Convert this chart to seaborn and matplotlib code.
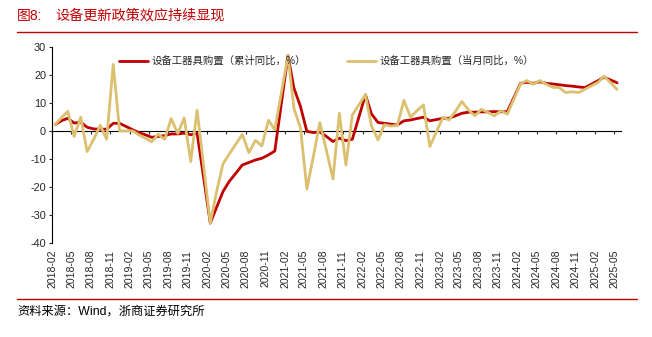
import numpy as np
import pandas as pd
import matplotlib
matplotlib.use('Agg')
import matplotlib.pyplot as plt
from matplotlib.lines import Line2D
import seaborn as sns

# ---------------- data ----------------
months = pd.period_range('2018-02', '2025-05', freq='M').strftime('%Y-%m').tolist()
nan = np.nan

# 设备工器具购置（累计同比，%） - January values not published
cum_yoy = [
    2.3, 3.6, 4.5, 2.8, 3.1, 1.3, 0.7, 0.6, 0.6, 2.7, 2.7, nan,          # 2018
    0.4, -0.6, -1.4, -2.3, -2.0, -1.7, -1.1, -1.1, -0.8, -1.4, -0.8, nan,  # 2019
    -33.0, -27.5, -21.7, -18.0, -15.1, -12.2, -11.3, -10.4, -9.8, -8.6, -7.2, nan,  # 2020
    27.0, 15.3, 8.7, -0.2, -0.6, -0.4, -2.0, -3.8, -2.6, -3.5, -3.0, nan,  # 2021
    12.9, 6.1, 3.0, 2.7, 2.4, 2.1, 3.6, 3.9, 4.4, 4.9, 3.6, nan,          # 2022
    4.5, 4.5, 5.4, 6.3, 6.7, 6.7, 6.8, 6.8, 6.9, 6.8, 6.9, nan,           # 2023
    17.0, 17.4, 17.0, 17.6, 17.0, 16.8, 16.5, 16.2, 16.0, 15.7, 15.5, nan,  # 2024
    18.0, 19.2, 18.2, 17.2,                                              # 2025
]

# 设备工器具购置（当月同比，%）
mon_yoy = [
    2.3, 4.6, 7.0, -2.0, 4.9, -7.4, -3.0, 2.0, -3.0, 23.8, 0.0, nan,
    0.0, -1.4, -2.6, -3.9, -1.2, -3.0, 4.4, -0.9, 4.6, -11.0, 7.4, nan,
    -33.0, -22.0, -11.8, -8.2, -4.7, -1.3, -7.8, -3.4, -5.4, 3.8, 0.4, nan,
    27.0, 8.1, 1.0, -20.8, -9.0, 3.0, -7.0, -17.2, 6.3, -12.2, 5.7, nan,
    12.9, 1.8, -3.2, 2.2, 1.7, 2.0, 10.9, 4.9, 7.2, 9.3, -5.6, nan,
    4.9, 3.9, 7.0, 10.5, 7.5, 5.4, 7.7, 6.6, 5.4, 7.2, 6.0, nan,
    16.8, 18.0, 16.7, 18.0, 16.7, 15.6, 15.5, 13.7, 14.0, 13.7, 14.9, nan,
    17.4, 19.6, 17.2, 14.8,
]

series_names = ['设备工器具购置（累计同比，%）', '设备工器具购置（当月同比，%）']
tick_labels = months[::3]
y_ticks = [-40, -30, -20, -10, 0, 10, 20, 30]

title_no = '图8:'
title_text = '设备更新政策效应持续显现'
source_text = '资料来源：Wind，浙商证券研究所'

# ---------------- styling ----------------
RED = '#C00000'
GOLD = '#DBC070'

sns.set_theme(style='white')
plt.rcParams['font.family'] = ['Liberation Sans', 'Noto Sans CJK SC', 'DejaVu Sans']
plt.rcParams['axes.unicode_minus'] = False

# month midpoints as x positions
dates = pd.to_datetime(months) + pd.Timedelta(days=14)
df = pd.concat([
    pd.DataFrame({'date': dates, 'value': cum_yoy, 'series': series_names[0]}),
    pd.DataFrame({'date': dates, 'value': mon_yoy, 'series': series_names[1]}),
], ignore_index=True).dropna()

fig = plt.figure(figsize=(6.52, 3.37), dpi=100)
ax = fig.add_axes([0.0802, 0.2798, 0.8718, 0.5807])

sns.lineplot(data=df, x='date', y='value', hue='series', hue_order=series_names,
             palette=[RED, GOLD], linewidth=2.0, ax=ax, legend=True)

tick_dates = pd.to_datetime(tick_labels)
ax.set_xlim(pd.Timestamp('2018-02-01'), pd.Timestamp('2025-06-01'))
ax.set_ylim(-40, 30)
ax.set_yticks(y_ticks)
ax.set_yticklabels([str(v) for v in y_ticks], fontsize=7.8)
ax.set_xticks(tick_dates)
ax.set_xticklabels(tick_labels, rotation=90, fontsize=7.6)
ax.tick_params(axis='x', length=0, pad=5)
ax.tick_params(axis='y', direction='out', length=2.5, width=0.8, pad=2, left=True)
ax.set_xlabel('')
ax.set_ylabel('')
for s in ['top', 'right', 'bottom']:
    ax.spines[s].set_visible(False)
ax.spines['left'].set_color('black')
ax.spines['left'].set_linewidth(0.8)

# zero axis line with tick marks
sec = ax.secondary_xaxis(0, transform=ax.transData)
sec.set_xticks(tick_dates)
sec.tick_params(axis='x', direction='out', length=2.5, width=0.8, labelbottom=False, labeltop=False)
for s in sec.spines.values():
    s.set_color('black')
    s.set_linewidth(0.8)

sns.move_legend(ax, loc='center', bbox_to_anchor=(0.482, 0.928), ncol=2, frameon=False,
                title=None, fontsize=7.5, handlelength=2.8, columnspacing=3.9,
                handletextpad=0.35)
for line in ax.get_legend().get_lines():
    line.set_linewidth(2.0)

# title, rules, source
fig.text(17 / 652, 1 - 16 / 337, title_no, color=RED, fontsize=10, va='center', ha='left')
fig.text(55 / 652, 1 - 16 / 337, title_text, color=RED, fontsize=10.2, va='center', ha='left')
fig.add_artist(Line2D([17 / 652, 637 / 652], [1 - 32 / 337, 1 - 32 / 337],
                      transform=fig.transFigure, color=RED, linewidth=1.0))
fig.add_artist(Line2D([17 / 652, 637 / 652], [1 - 299 / 337, 1 - 299 / 337],
                      transform=fig.transFigure, color=RED, linewidth=1.0))
fig.text(17 / 652, 1 - 312 / 337, source_text, color='black', fontsize=8.8, va='center', ha='left')

fig.savefig('out.png', dpi=100)
